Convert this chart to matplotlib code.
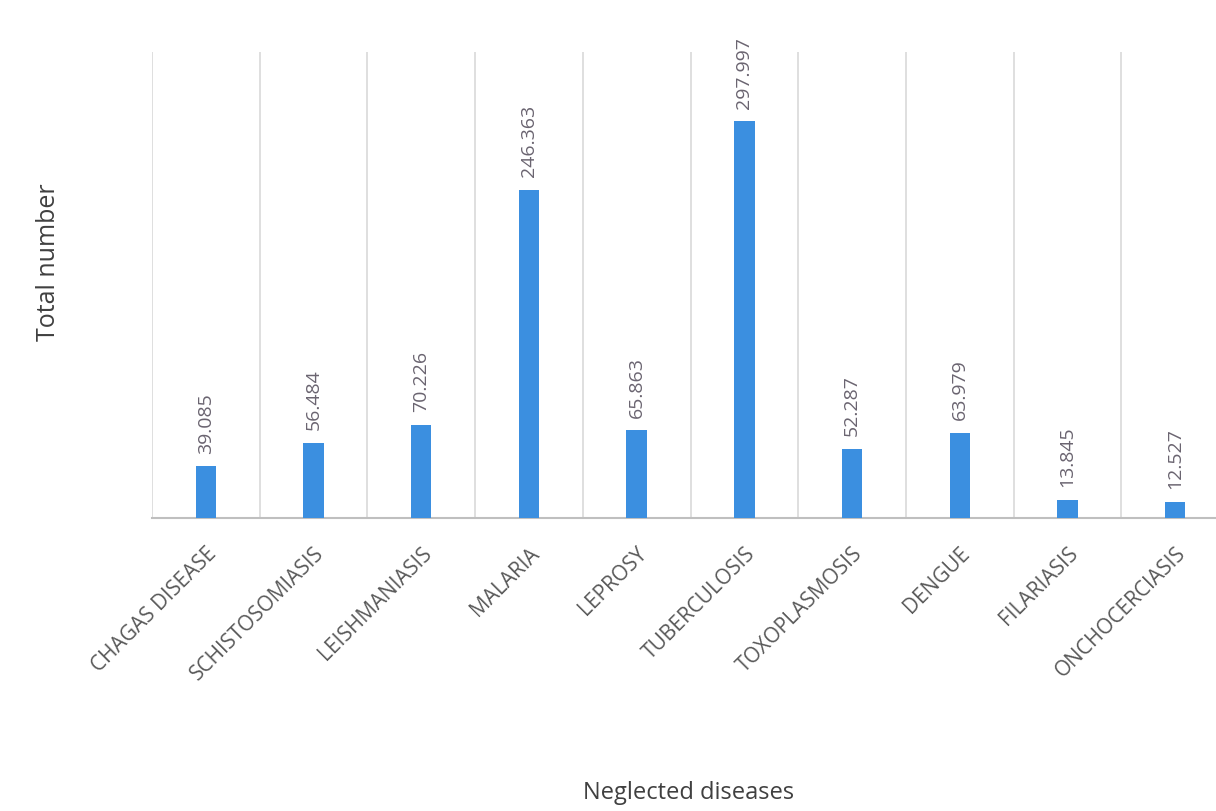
import matplotlib.pyplot as plt
import numpy as np

diseases = ['CHAGAS DISEASE', 'SCHISTOSOMIASIS', 'LEISHMANIASIS', 'MALARIA', 'LEPROSY',
            'TUBERCULOSIS', 'TOXOPLASMOSIS', 'DENGUE', 'FILARIASIS', 'ONCHOCERCIASIS']
totals = [39.085, 56.484, 70.226, 246.363, 65.863, 297.997, 52.287, 63.979, 13.845, 12.527]

plt.rcParams['font.family'] = ['Open Sans', 'DejaVu Sans']

fig = plt.figure(figsize=(12.16, 8.11), dpi=100)
ax = fig.add_axes([0.125, 0.361, 0.8857, 0.575])

x = np.arange(len(diseases))
ax.bar(x, totals, width=0.19, color='#3b8fe0', zorder=3)

for xi, v in zip(x, totals):
    ax.annotate('%.3f' % v, (xi, v), xytext=(0, 9), textcoords='offset points',
                rotation=90, ha='center', va='bottom', fontsize=14, color='#6a6470')

ax.set_xlim(-0.5, len(diseases) - 0.5)
ax.set_ylim(0, 350)

# category separators
ax.set_xticks(np.arange(-0.5, len(diseases)), minor=True)
ax.grid(which='minor', axis='x', color='#d9d9d9', linewidth=1.2)
ax.tick_params(which='minor', length=0)

ax.set_xticks(x)
ax.set_xticklabels(diseases, rotation=45, ha='right', rotation_mode='anchor',
                   fontsize=15, color='#595959')
ax.tick_params(axis='x', length=0, pad=18)
ax.set_yticks([])

for s in ['top', 'right', 'left']:
    ax.spines[s].set_visible(False)
ax.spines['bottom'].set_color('#bfbfbf')
ax.spines['bottom'].set_linewidth(1.5)

fig.text(0.04, 0.677, 'Total number', rotation=90, ha='center', va='center',
         fontsize=18, color='#404040')
fig.text(0.566, 0.022, 'Neglected diseases', ha='center', va='center',
         fontsize=17, color='#404040')

plt.savefig('out.png')
